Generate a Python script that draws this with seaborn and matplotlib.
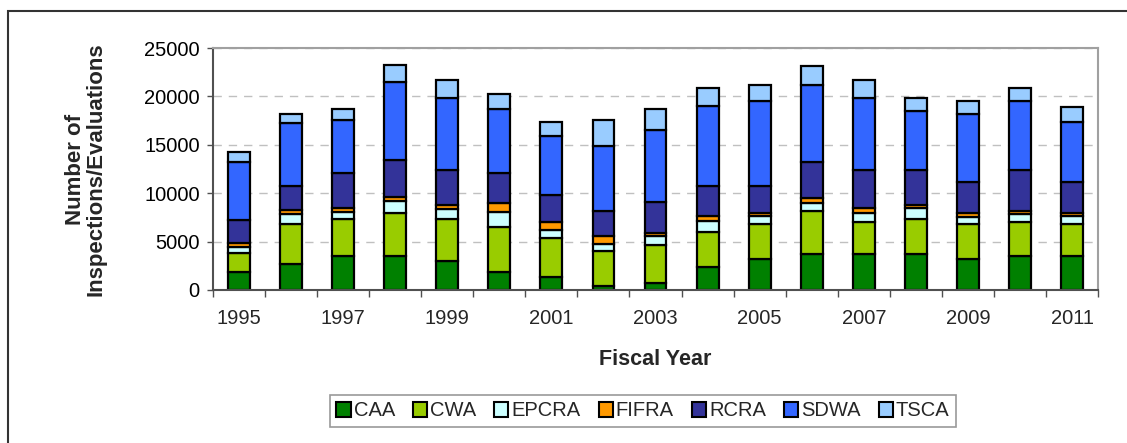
import numpy as np
import matplotlib.pyplot as plt
import seaborn as sns
from matplotlib.patches import Patch, Rectangle

# Data
years = [str(y) for y in range(1995, 2012)]
caa = [1900, 2700, 3500, 3500, 2950, 1900, 1300, 450, 700, 2350, 3200, 3750, 3750, 3750, 3200, 3500, 3500]
cwa = [1900, 4100, 3800, 4500, 4350, 4600, 4100, 3550, 3900, 3650, 3600, 4400, 3300, 3550, 3600, 3550, 3300]
epcra = [600, 1100, 800, 1200, 1100, 1600, 800, 800, 1000, 1100, 800, 800, 900, 1150, 750, 800, 800]
fifra = [500, 400, 350, 400, 400, 900, 850, 800, 300, 500, 350, 550, 500, 350, 400, 350, 350]
rcra = [2300, 2400, 3650, 3800, 3600, 3100, 2750, 2550, 3150, 3100, 2750, 3700, 3900, 3600, 3250, 4200, 3250]
sdwa = [6000, 6600, 5500, 8100, 7400, 6600, 6100, 6700, 7450, 8300, 8800, 7950, 7450, 6050, 7000, 7100, 6150]
tsca = [1100, 900, 1100, 1700, 1900, 1600, 1450, 2750, 2200, 1900, 1700, 2000, 1900, 1350, 1300, 1350, 1600]

series_names = ["CAA", "CWA", "EPCRA", "FIFRA", "RCRA", "SDWA", "TSCA"]
series_values = [caa, cwa, epcra, fifra, rcra, sdwa, tsca]
colors = ["#008000", "#99CC00", "#CCFFFF", "#FF9900", "#333399", "#3366FF", "#99CCFF"]

sns.set_theme(style="white")
plt.rcParams['font.family'] = ['Liberation Sans', 'DejaVu Sans']

fig = plt.figure(figsize=(11.27, 4.43), dpi=100)
ax = fig.add_axes([0.189, 0.3454, 0.7853, 0.5462])

# stacked bars
bottom = np.zeros(len(years))
for name, vals, col in zip(series_names, series_values, colors):
    sns.barplot(x=years, y=vals, bottom=bottom, color=col, saturation=1,
                edgecolor="black", linewidth=1.6, width=0.42, errorbar=None, ax=ax)
    bottom = bottom + np.array(vals)

# axes
ax.set_ylim(0, 25000)
ax.set_yticks(range(0, 25001, 5000))
ax.set_xlim(-0.5, len(years) - 0.5)
ax.set_xticks(range(len(years)))
ax.set_xticklabels([y if i % 2 == 0 else "" for i, y in enumerate(years)])
ax.set_xticks(np.arange(-0.5, len(years), 1), minor=True)

ax.set_axisbelow(True)
ax.yaxis.grid(True, linestyle=(0, (6, 5)), color="#C0C0C0", linewidth=1)
ax.xaxis.grid(False)

ax.tick_params(axis="y", left=True, direction="out", length=4.5, width=1,
               color="#505050", labelsize=14.5, pad=5, labelcolor="black")
ax.tick_params(axis="x", which="major", bottom=True, length=0, labelsize=14.5, pad=14)
ax.tick_params(axis="x", which="minor", bottom=True, direction="out", length=5,
               width=1, color="#505050")

for side in ["left", "bottom"]:
    ax.spines[side].set_color("#505050")
    ax.spines[side].set_linewidth(1.5)
for side in ["top", "right"]:
    ax.spines[side].set_color("#A0A0A0")
    ax.spines[side].set_linewidth(1.5)

ax.set_xlabel("Fiscal Year", fontsize=15.5, fontweight="bold")
ax.xaxis.set_label_coords(0.5, -0.245)
ax.set_ylabel("Number of\nInspections/Evaluations", fontsize=16, fontweight="bold", linespacing=1.0)
ax.yaxis.set_label_coords(-0.12, 0.5)

# legend
handles = [Patch(facecolor=c, edgecolor="black", linewidth=1.5) for c in colors]
leg = fig.legend(handles, series_names, loc="center", bbox_to_anchor=(643 / 1127, 1 - 411 / 443),
                 ncol=7, frameon=True, fancybox=False, edgecolor="#808080", fontsize=14.5,
                 handlelength=0.7, handleheight=0.7, handletextpad=0.15,
                 columnspacing=0.9, borderpad=0.3)
leg.get_frame().set_linewidth(1.2)

# outer chart frame (cut off at right and bottom)
fig.add_artist(Rectangle((8 / 1127, -0.5), 2, 0.975 + 0.5, transform=fig.transFigure,
                         fill=False, edgecolor="#333333", linewidth=1.5))

fig.savefig("out.png", dpi=100)
